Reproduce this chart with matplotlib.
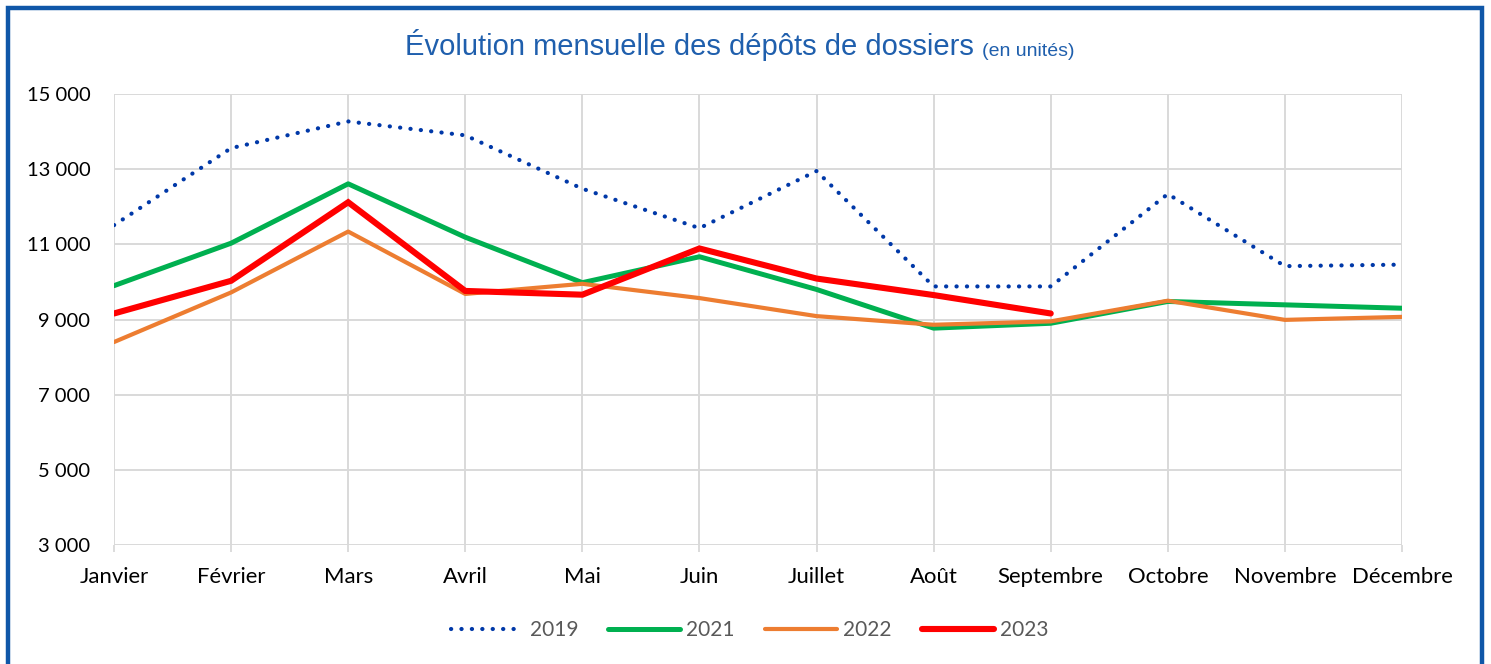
import matplotlib.pyplot as plt
from matplotlib.patches import Rectangle
from matplotlib.transforms import offset_copy

# Monthly filings (units)
months = ['Janvier', 'Février', 'Mars', 'Avril', 'Mai', 'Juin', 'Juillet',
          'Août', 'Septembre', 'Octobre', 'Novembre', 'Décembre']
y2019 = [11510, 13560, 14270, 13900, 12480, 11430, 12950, 9880, 9880, 12340, 10420, 10460]
y2021 = [9900, 11030, 12610, 11190, 9980, 10670, 9800, 8770, 8900, 9480, 9390, 9300]
y2022 = [8400, 9720, 11340, 9680, 9950, 9570, 9090, 8860, 8950, 9500, 8990, 9070]
y2023 = [9160, 10030, 12120, 9760, 9660, 10890, 10090, 9650, 9160]
y_ticks = [3000, 5000, 7000, 9000, 11000, 13000, 15000]

W, H = 1491, 664
fig = plt.figure(figsize=(W / 100, H / 100), dpi=100, facecolor='white')
ax = fig.add_axes([114 / W, 119 / H, (1402 - 114) / W, (545 - 94) / H])

# blue frame round the whole chart
fig.patches.append(Rectangle((8 / W, -0.05), (1482 - 8) / W, (664 - 8) / H + 0.05,
                             transform=fig.transFigure, fill=False,
                             edgecolor='#0F57A8', linewidth=3.2))

x = list(range(len(months)))
ax.plot(x, y2019, color='#0038A8', linewidth=3.0, linestyle=(0, (0.05, 2.45)),
        dash_capstyle='round', label='2019', zorder=3)
ax.plot(x, y2021, color='#00B050', linewidth=3.6, label='2021', zorder=4,
        solid_capstyle='round')
ax.plot(x, y2022, color='#ED7D31', linewidth=3.0, label='2022', zorder=5,
        solid_capstyle='round')
ax.plot(x[:len(y2023)], y2023, color='#FF0000', linewidth=4.4, label='2023',
        zorder=6, solid_capstyle='round', solid_joinstyle='miter')

ax.set_xlim(0, len(months) - 1)
ax.set_ylim(3000, 15000)
ax.set_xticks(x)
ax.set_xticklabels(months, fontsize=15.9, family='Lato', color='black')
ax.set_yticks(y_ticks)
ax.set_yticklabels([f'{v:,}'.replace(',', ' ') for v in y_ticks],
                   fontsize=14.5, family='Lato', color='black')
ax.tick_params(axis='y', length=0, pad=17)
ax.tick_params(axis='x', length=5, width=1.3, color='#D9D9D9', pad=11)
ax.grid(True, color='#D9D9D9', linewidth=1.4, zorder=0)
for s in ax.spines.values():
    s.set_visible(False)
ax.set_axisbelow(True)

# title, with the smaller unit note right after it
title = fig.text(405 / W, 1 - 45 / H, 'Évolution mensuelle des dépôts de dossiers',
                 fontsize=21, family='Liberation Sans', color='#1F5FAD',
                 ha='left', va='center')
fig.canvas.draw()
bb = title.get_window_extent()
fig.text(bb.x1 + 8, bb.y0 + 5, '(en unités)', fontsize=14,
         family='Liberation Sans', color='#1F5FAD', ha='left', va='baseline',
         transform=None)

leg = fig.legend(loc='center', bbox_to_anchor=(750 / W, 1 - 630 / H), ncol=4,
                 frameon=False, handlelength=3.45, handletextpad=0.3,
                 columnspacing=1.45, prop={'family': 'Lato', 'size': 15})
for t in leg.get_texts():
    t.set_color('#595959')

fig.savefig('out.png', dpi=100, facecolor='white')
